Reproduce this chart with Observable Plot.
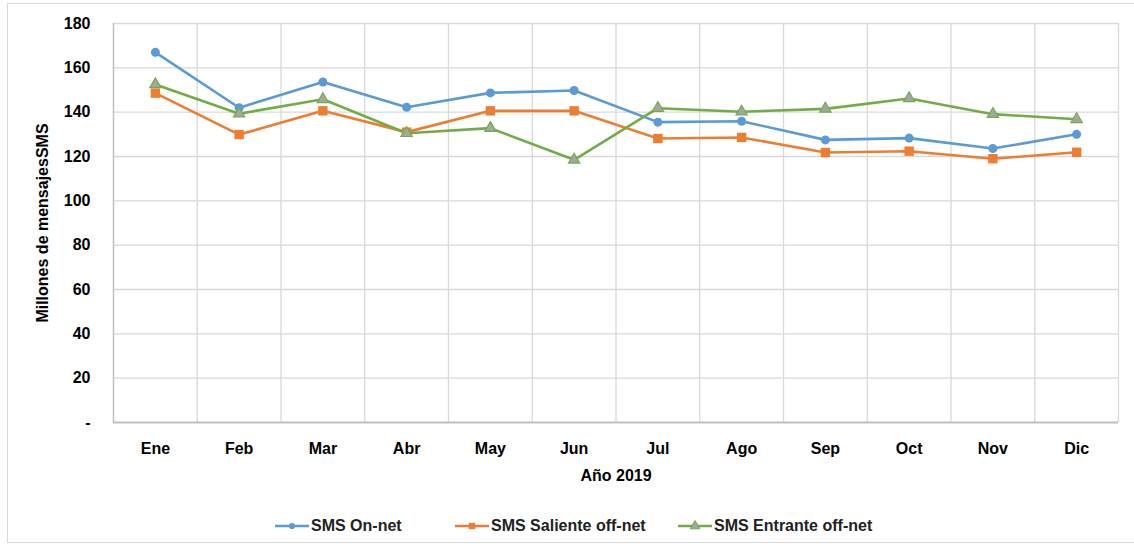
<!DOCTYPE html>
<html>
<head>
<meta charset="utf-8">
<script src="https://cdn.jsdelivr.net/npm/d3@7"></script>
<script src="https://cdn.jsdelivr.net/npm/@observablehq/plot@0.6"></script>
<style>
  html, body { margin: 0; padding: 0; background: #fff; }
  body { width: 1134px; height: 547px; position: relative; overflow: hidden;
         font-family: "Liberation Sans Narrow", "Liberation Sans", Arial, sans-serif; }
  #frame { position: absolute; left: 7px; top: 3px; width: 1140px; height: 540px;
           border: 1px solid #d9d9d9; box-sizing: border-box; }
  #chart { position: absolute; left: 0; top: 0; }
  #legend { position: absolute; top: 516px; left: 0; width: 1134px; height: 22px;
            font-weight: bold; font-size: 16px; color: #222; }
  .item { position: absolute; top: 0; display: flex; align-items: center; white-space: nowrap; }
  .item svg { margin-right: 2px; }
</style>
</head>
<body>
<div id="frame"></div>
<div id="chart"></div>
<div id="legend"></div>
<script>
const months = ["Ene","Feb","Mar","Abr","May","Jun","Jul","Ago","Sep","Oct","Nov","Dic"];
const seriesNames = ["SMS On-net","SMS Saliente off-net","SMS Entrante off-net"];
const onNet       = [167, 142, 153.6, 142.2, 148.7, 149.8, 135.5, 135.9, 127.5, 128.3, 123.6, 130];
const salienteOff = [148.6, 129.9, 140.6, 131, 140.6, 140.6, 128.1, 128.6, 121.8, 122.4, 119, 121.9];
const entranteOff = [152.5, 139.3, 145.8, 130.5, 132.8, 118.5, 141.8, 140.2, 141.5, 146.2, 139.1, 136.8];
const yTicks = [0,20,40,60,80,100,120,140,160,180];
const xLabel = "Año 2019";
const yLabel = "Millones de mensajesSMS";

const colors = ["#5B9BD5", "#ED7D31", "#70AD47"];
const symbols = ["circle", "square", "triangle"];
const fills = ["#5B9BD5", "#ED7D31", "#A5A5A5"];

const allSeries = [onNet, salienteOff, entranteOff];
const data = [];
allSeries.forEach((vals, s) => vals.forEach((v, i) => data.push({series: seriesNames[s], s, m: i + 1, v})));

const marks = [
  Plot.ruleY(yTicks.filter(d => d > 0), {y: d => d, stroke: "#d9d9d9", strokeWidth: 1.3}),
  Plot.ruleX(d3.range(1.5, 13, 1), {x: d => d, stroke: "#d9d9d9", strokeWidth: 1.3}),
  Plot.ruleX([0.5], {x: d => d, stroke: "#bfbfbf", strokeWidth: 1.5}),
  Plot.ruleY([0], {y: d => d, stroke: "#bfbfbf", strokeWidth: 1.8}),
];
seriesNames.forEach((name, s) => {
  const d = data.filter(r => r.s === s);
  marks.push(Plot.line(d, {x: "m", y: "v", stroke: colors[s], strokeWidth: 2.6}));
});
seriesNames.forEach((name, s) => {
  const d = data.filter(r => r.s === s);
  marks.push(Plot.dot(d, {x: "m", y: "v", symbol: () => symbols[s], fill: fills[s],
    stroke: s === 2 ? colors[2] : "none", strokeWidth: 1.2,
    r: s === 0 ? 4.5 : (s === 1 ? 5.3 : 4.2)}));
});
marks.push(Plot.text([yLabel], {text: d => d, frameAnchor: "left", textAnchor: "middle", dx: -71, rotate: -90,
  fontSize: 16, fontWeight: "bold", fill: "#000"}));
marks.push(Plot.text([xLabel], {text: d => d, frameAnchor: "bottom", dy: 58,
  fontSize: 16, fontWeight: "bold", fill: "#000"}));

const chart = Plot.plot({
  width: 1134, height: 490,
  marginTop: 23, marginLeft: 113, marginRight: 16, marginBottom: 68,
  style: {fontFamily: '"Liberation Sans Narrow", "Liberation Sans", Arial, sans-serif',
          fontSize: "16px", fontWeight: "bold", color: "#000", background: "transparent", overflow: "visible"},
  x: {domain: [0.5, 12.5], ticks: d3.range(1, 13), tickFormat: i => months[i - 1],
      tickSize: 0, tickPadding: 20, label: null},
  y: {domain: [0, 180], ticks: yTicks, tickFormat: d => d === 0 ? "-" : d,
      tickSize: 0, tickPadding: 23, label: null},
  symbol: {type: "identity"},
  marks
});
document.getElementById("chart").appendChild(chart);

// Legend
const legendPos = [275, 455, 678];
const legend = document.getElementById("legend");
seriesNames.forEach((name, s) => {
  const item = document.createElement("div");
  item.className = "item";
  item.style.left = legendPos[s] + "px";
  const ns = "http://www.w3.org/2000/svg";
  const svg = document.createElementNS(ns, "svg");
  svg.setAttribute("width", 34); svg.setAttribute("height", 20);
  const line = document.createElementNS(ns, "line");
  line.setAttribute("x1", 0); line.setAttribute("x2", 34);
  line.setAttribute("y1", 10); line.setAttribute("y2", 10);
  line.setAttribute("stroke", colors[s]); line.setAttribute("stroke-width", 2.6);
  svg.appendChild(line);
  const sym = d3.symbol().type([d3.symbolCircle, d3.symbolSquare, d3.symbolTriangle][s]).size(s === 0 ? 30 : 40)();
  const p = document.createElementNS(ns, "path");
  p.setAttribute("d", sym); p.setAttribute("transform", "translate(17,10)");
  p.setAttribute("fill", fills[s]);
  if (s === 2) { p.setAttribute("stroke", colors[2]); p.setAttribute("stroke-width", 1); }
  svg.appendChild(p);
  item.appendChild(svg);
  const span = document.createElement("span");
  span.textContent = name;
  item.appendChild(span);
  legend.appendChild(item);
});
</script>
</body>
</html>
